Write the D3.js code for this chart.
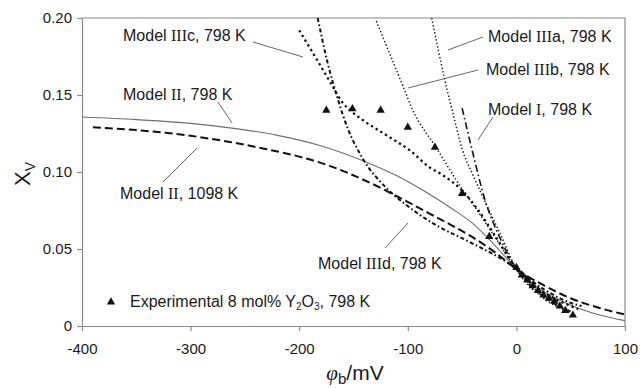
<!DOCTYPE html>
<html>
<head>
<meta charset="utf-8">
<script src="https://cdn.jsdelivr.net/npm/d3@7"></script>
<style>
  body { margin: 0; background: #fff; }
  svg text { font-family: "Liberation Sans", Arial, sans-serif; fill: #1a1a1a; }
</style>
</head>
<body>
<div id="chart"></div>
<script>
'use strict';

// values (phi_b in mV, x_v)
const xTicks = [-400, -300, -200, -100, 0, 100];
const yTicks = [0, 0.05, 0.10, 0.15, 0.20];

const model2_798_v = [-400, -350, -300, -262, -220, -181, -142, -110, -80, -60, -40, -20, 0, 25, 50, 75, 100];
const model2_798_x = [0.1357, 0.1340, 0.1316, 0.1285, 0.1238, 0.1172, 0.1075, 0.0975, 0.0855, 0.0765, 0.0665, 0.0525, 0.037, 0.0225, 0.0135, 0.0075, 0.0035];

const model2_1098_v = [-390, -350, -300, -264, -230, -200, -172, -154, -123, -108, -80, -60, -40, -20, 0, 25, 50, 75, 100];
const model2_1098_x = [0.129, 0.1272, 0.1235, 0.1195, 0.1148, 0.1100, 0.1040, 0.0990, 0.0890, 0.0835, 0.0730, 0.0655, 0.0575, 0.0480, 0.037, 0.0265, 0.018, 0.012, 0.0075];

const model3a_v = [-78, -66, -57, -50, -40, -31, -15, 0, 25, 50];
const model3a_x = [0.200, 0.160, 0.134, 0.115, 0.098, 0.084, 0.060, 0.037, 0.018, 0.009];

const model3b_v = [-129, -115, -104, -96, -74, -50, -37, -20, 0, 25, 50];
const model3b_x = [0.198, 0.174, 0.155, 0.141, 0.116, 0.089, 0.076, 0.058, 0.037, 0.019, 0.0095];

const model3c_v = [-200, -185, -172, -160, -153, -142, -120, -98, -80, -68, -50, -37, -20, 0, 25, 50, 57];
const model3c_x = [0.192, 0.1745, 0.159, 0.145, 0.140, 0.134, 0.124, 0.114, 0.103, 0.098, 0.088, 0.077, 0.059, 0.037, 0.022, 0.013, 0.011];

const model3d_v = [-183, -174, -164.7, -155.5, -141.7, -119.6, -101.2, -80, -43, -9.2, 0, 25, 50, 60];
const model3d_x = [0.200, 0.1714, 0.148, 0.1286, 0.109, 0.0895, 0.0785, 0.0680, 0.0545, 0.0416, 0.037, 0.024, 0.015, 0.013];

const model1_v = [-50, -40, -29, -15, 0, 25, 50];
const model1_x = [0.1415, 0.112, 0.082, 0.057, 0.037, 0.019, 0.0095];

const exp_v = [-175, -151, -125, -100, -75, -50, -25, 0, 5, 10, 15, 20, 25, 30, 35, 40, 45, 52];
const exp_x = [0.140, 0.141, 0.140, 0.129, 0.116, 0.086, 0.058, 0.038, 0.033, 0.030, 0.026, 0.023, 0.020, 0.018, 0.016, 0.013, 0.010, 0.007];

const width = 640, height = 388;
const svg = d3.select("#chart").append("svg")
    .attr("width", width)
    .attr("height", height);

const x = d3.scaleLinear().domain([-400, 100]).range([82, 625]);
const y = d3.scaleLinear().domain([0, 0.2]).range([326, 18]);

svg.append("defs").append("clipPath").attr("id", "plot")
  .append("rect").attr("x", 82).attr("y", 18).attr("width", 543).attr("height", 308);

// frame top / right
svg.append("line").attr("x1", 82).attr("x2", 625).attr("y1", 18).attr("y2", 18)
    .attr("stroke", "#8a8a8a").attr("stroke-width", 1.2);
svg.append("line").attr("x1", 625).attr("x2", 625).attr("y1", 18).attr("y2", 326)
    .attr("stroke", "#8a8a8a").attr("stroke-width", 1.2);

const xAxis = svg.append("g")
    .attr("transform", "translate(0,326)")
    .call(d3.axisBottom(x).tickValues(xTicks).tickSize(5).tickSizeOuter(0).tickPadding(12).tickFormat(d => String(d)));
const yAxis = svg.append("g")
    .attr("transform", "translate(82,0)")
    .call(d3.axisLeft(y).tickValues(yTicks).tickSize(5).tickSizeOuter(0).tickPadding(5)
      .tickFormat(d => d === 0 ? "0" : d3.format(".2f")(d)));

[xAxis, yAxis].forEach(a => {
  a.select(".domain").attr("stroke", "#8a8a8a").attr("stroke-width", 1.2);
  a.selectAll(".tick line").attr("stroke", "#8a8a8a").attr("stroke-width", 1.2);
  a.selectAll(".tick text").attr("font-size", 15).attr("fill", "#1a1a1a")
    .attr("font-family", "'Liberation Sans', Arial, sans-serif");
});

// curves
const series = [
  { v: model2_798_v, xv: model2_798_x, stroke: "#6e6e6e", w: 1.1, dash: null },
  { v: model2_1098_v, xv: model2_1098_x, stroke: "#111", w: 2, dash: "8,4" },
  { v: model3a_v, xv: model3a_x, stroke: "#111", w: 1.4, dash: "1.4,2.2" },
  { v: model3b_v, xv: model3b_x, stroke: "#111", w: 1.4, dash: "1.4,2.2" },
  { v: model3c_v, xv: model3c_x, stroke: "#111", w: 2.3, dash: "2.3,3.2" },
  { v: model3d_v, xv: model3d_x, stroke: "#111", w: 2, dash: "4,2.5,1.6,2.5" },
  { v: model1_v, xv: model1_x, stroke: "#111", w: 1.6, dash: "7,3,1.6,3" }
];

const line = d3.line()
    .x(d => x(d[0]))
    .y(d => y(d[1]))
    .curve(d3.curveMonotoneX);

const curves = svg.append("g").attr("clip-path", "url(#plot)");
series.forEach(s => {
  curves.append("path")
      .datum(s.v.map((v, i) => [v, s.xv[i]]))
      .attr("d", line)
      .attr("fill", "none")
      .attr("stroke", s.stroke)
      .attr("stroke-width", s.w)
      .attr("stroke-dasharray", s.dash);
});

// experimental points
const tri = d3.symbol().type(d3.symbolTriangle).size(30);
svg.append("g").selectAll("path")
    .data(exp_v.map((v, i) => [v, exp_x[i]]))
    .enter()
    .append("path")
    .attr("d", tri)
    .attr("transform", d => `translate(${x(d[0])},${y(d[1])})`)
    .attr("fill", "#111");

// labels with leader lines
const labels = [
  { pre: "Model ", rn: "III", post: "c, 798 K", tx: 123, ty: 41, l: [253, 42, 303, 57] },
  { pre: "Model ", rn: "III", post: "a, 798 K", tx: 488, ty: 42, l: [483, 37, 448, 50] },
  { pre: "Model ", rn: "III", post: "b, 798 K", tx: 486, ty: 75, l: [478, 70, 408, 88] },
  { pre: "Model ", rn: "I", post: ", 798 K", tx: 488, ty: 115, l: [493, 117, 478, 140] },
  { pre: "Model ", rn: "II", post: ", 798 K", tx: 123, ty: 100, l: [218, 102, 232, 123] },
  { pre: "Model ", rn: "II", post: ", 1098 K", tx: 120, ty: 199, l: [163, 182, 197, 148] },
  { pre: "Model ", rn: "III", post: "d, 798 K", tx: 318, ty: 269, l: [385, 248, 408, 223] }
];

labels.forEach(d => {
  svg.append("line")
      .attr("x1", d.l[0]).attr("y1", d.l[1]).attr("x2", d.l[2]).attr("y2", d.l[3])
      .attr("stroke", "#555").attr("stroke-width", 0.9);
  const t = svg.append("text").attr("x", d.tx).attr("y", d.ty).attr("font-size", 16);
  t.append("tspan").text(d.pre);
  t.append("tspan").attr("font-family", "'Liberation Serif', 'Times New Roman', serif").text(d.rn);
  t.append("tspan").text(d.post);
});

// legend
svg.append("path").attr("d", tri).attr("transform", "translate(111,302)").attr("fill", "#111");
const leg = svg.append("text").attr("x", 130).attr("y", 307).attr("font-size", 16);
leg.append("tspan").text("Experimental 8 mol% Y");
leg.append("tspan").attr("font-size", 10).attr("dy", 3).text("2");
leg.append("tspan").attr("dy", -3).text("O");
leg.append("tspan").attr("font-size", 10).attr("dy", 3).text("3");
leg.append("tspan").attr("dy", -3).text(", 798 K");

// axis titles
const xt = svg.append("text").attr("x", 355).attr("y", 380).attr("text-anchor", "middle").attr("font-size", 21);
xt.append("tspan").attr("font-family", "'Liberation Serif', serif").attr("font-style", "italic").text("φ");
xt.append("tspan").attr("font-size", 15).attr("dy", 4).text("b");
xt.append("tspan").attr("dy", -4).text("/mV");

const yt = svg.append("text")
    .attr("transform", "translate(30,174) rotate(-90)")
    .attr("text-anchor", "middle")
    .attr("font-size", 22);
yt.append("tspan").text("X");
yt.append("tspan").attr("font-size", 14).attr("dy", 5).text("V");
</script>
</body>
</html>
